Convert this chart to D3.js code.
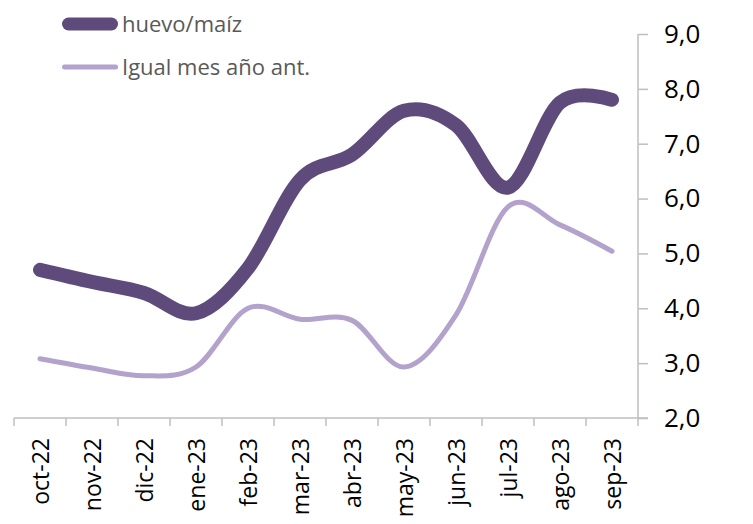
<!DOCTYPE html>
<html>
<head>
<meta charset="utf-8">
<script src="https://cdn.jsdelivr.net/npm/d3@7"></script>
<style>
  html, body { margin: 0; padding: 0; background: #fff; }
  svg { display: block; }
</style>
</head>
<body>
<svg id="chart" width="753" height="524"></svg>
<script>
// Monthly categories
const months = ["oct-22","nov-22","dic-22","ene-23","feb-23","mar-23","abr-23","may-23","jun-23","jul-23","ago-23","sep-23"];
// Ratio huevo/maíz, current period
const ratioActual = [4.70, 4.48, 4.28, 3.91, 4.73, 6.34, 6.80, 7.60, 7.34, 6.20, 7.75, 7.80];
// Same month, previous year
const ratioPrevio = [3.08, 2.91, 2.77, 2.93, 4.00, 3.80, 3.78, 2.93, 3.88, 5.85, 5.52, 5.04];
// Y-axis ticks
const yTicks = [2, 3, 4, 5, 6, 7, 8, 9];

const seriesNames = ["huevo/maíz", "Igual mes año ant."];
const colors = ["#5f4b7b", "#b3a2cb"];
const widths = [14, 5];

const svg = d3.select("#chart");
const plotLeft = 14, plotRight = 638, plotTop = 34, plotBottom = 418;

const x = d3.scaleBand().domain(months).range([plotLeft, plotRight]);
const y = d3.scaleLinear().domain([2, 9]).range([plotBottom, plotTop]);

const axisColor = "#bfbfbf";

// X axis (category boundaries as ticks)
const xg = svg.append("g");
xg.append("line")
  .attr("x1", plotLeft).attr("x2", plotRight + 10)
  .attr("y1", plotBottom).attr("y2", plotBottom)
  .attr("stroke", axisColor).attr("stroke-width", 1.5);
const bounds = months.map(m => x(m)).concat([plotRight]);
xg.selectAll("line.tick").data(bounds).join("line")
  .attr("class", "tick")
  .attr("x1", d => d).attr("x2", d => d)
  .attr("y1", plotBottom).attr("y2", plotBottom + 8)
  .attr("stroke", axisColor).attr("stroke-width", 1.5);
xg.selectAll("text").data(months).join("text")
  .attr("transform", d => `translate(${x(d) + x.bandwidth() / 2 + 1},${plotBottom + 20}) rotate(-90)`)
  .attr("text-anchor", "end")
  .attr("dy", "0.35em")
  .attr("font-family", "'Open Sans', sans-serif")
  .attr("font-size", 23)
  .attr("fill", "#000")
  .text(d => d);

// Y axis on the right
const yAxis = d3.axisRight(y)
  .tickValues(yTicks)
  .tickSize(10)
  .tickPadding(16)
  .tickFormat(d => d3.format(".1f")(d).replace(".", ","));
const yg = svg.append("g").attr("transform", `translate(${plotRight},0)`).call(yAxis);
yg.select(".domain").attr("stroke", axisColor).attr("stroke-width", 1.5)
  .attr("d", `M0,${plotTop}V${plotBottom}`);
yg.selectAll(".tick line").attr("stroke", axisColor).attr("stroke-width", 1.5);
yg.selectAll(".tick text")
  .attr("font-family", "'Open Sans', sans-serif")
  .attr("font-size", 26)
  .attr("fill", "#000");

// Lines
const line = d3.line()
  .x((d, i) => x(months[i]) + x.bandwidth() / 2)
  .y(d => y(d))
  .curve(d3.curveCardinal.tension(0));

[ratioPrevio, ratioActual].forEach((s, k) => {
  const idx = k === 0 ? 1 : 0;
  svg.append("path")
    .datum(s)
    .attr("d", line)
    .attr("fill", "none")
    .attr("stroke", colors[idx])
    .attr("stroke-width", widths[idx])
    .attr("stroke-linecap", "round")
    .attr("stroke-linejoin", "round");
});

// Legend
const legendY = [24, 67];
const legendW = [13, 5];
const lg = svg.append("g");
seriesNames.forEach((name, i) => {
  lg.append("line")
    .attr("x1", 62 + legendW[i] / 2).attr("x2", 118 - legendW[i] / 2)
    .attr("y1", legendY[i]).attr("y2", legendY[i])
    .attr("stroke", colors[i])
    .attr("stroke-width", legendW[i])
    .attr("stroke-linecap", "round");
  lg.append("text")
    .attr("x", 122).attr("y", legendY[i])
    .attr("dy", "0.35em")
    .attr("font-family", "'Open Sans', sans-serif")
    .attr("font-size", 22)
    .attr("fill", "#595959")
    .text(name);
});
</script>
</body>
</html>
